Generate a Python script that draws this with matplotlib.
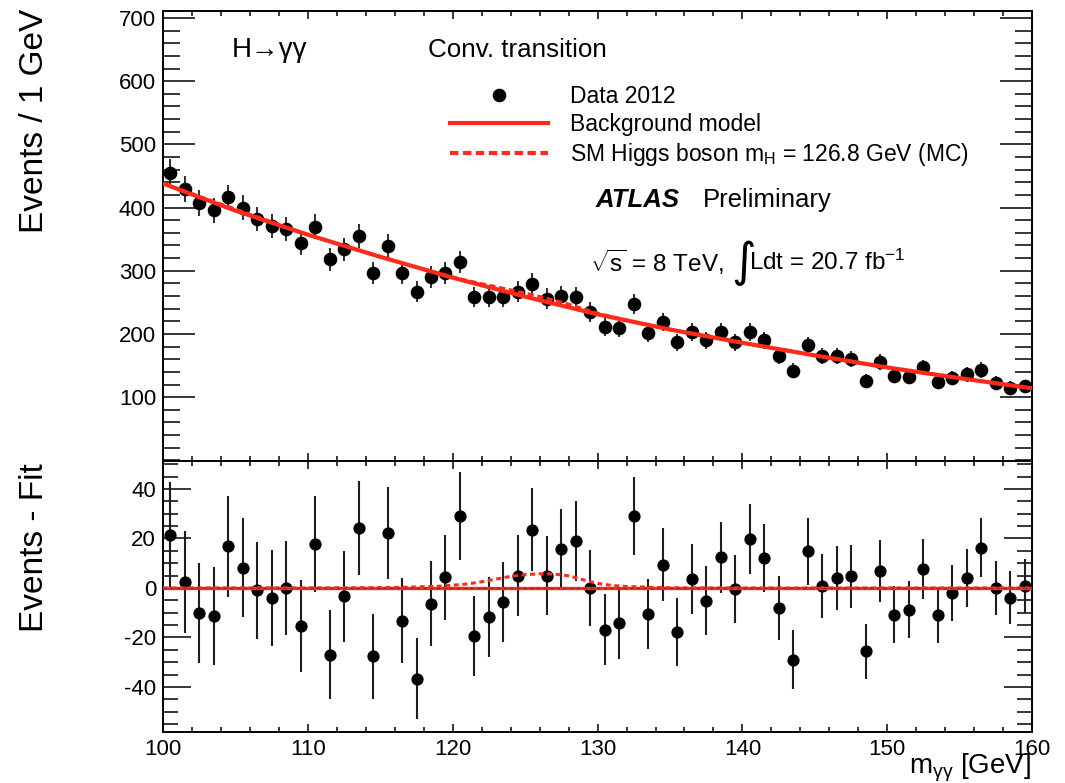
import numpy as np
import matplotlib
matplotlib.use("Agg")
import matplotlib.pyplot as plt
from matplotlib.lines import Line2D
from matplotlib.ticker import MultipleLocator, FixedLocator

plt.rcParams["font.family"] = ["Liberation Sans", "DejaVu Sans"]
plt.rcParams["mathtext.fontset"] = "custom"
plt.rcParams["mathtext.rm"] = "Liberation Sans"
plt.rcParams["mathtext.it"] = "Liberation Sans:italic"
plt.rcParams["mathtext.bf"] = "Liberation Sans:bold"
plt.rcParams["mathtext.sf"] = "Liberation Sans"
plt.rcParams["axes.unicode_minus"] = False

# --- data: diphoton invariant mass, 1 GeV bins ---------------------------
mass = np.arange(100.5, 160.0, 1.0)
counts = [455, 429, 407, 396, 416, 400, 382, 371, 366, 344,
          370, 318, 334, 355, 296, 339, 297, 267, 290, 297,
          314, 258, 259, 259, 267, 279, 256, 260, 258, 235,
          211, 210, 247, 202, 219, 187, 203, 190, 203, 187,
          203, 190, 165, 142, 182, 165, 165, 161, 126, 156,
          134, 132, 147, 124, 130, 136, 143, 123, 115, 117]
residuals = [21.5, 2.4, -10.1, -11.4, 16.8, 8.1, -0.9, -4.0, 0.0, -15.5,
             17.8, -26.9, -3.4, 24.2, -27.6, 22.2, -13.2, -36.6, -6.3, 4.3,
             29.2, -19.5, -11.7, -5.8, 5.0, 23.6, 5.0, 15.8, 18.9, 0.0,
             -16.8, -14.1, 29.0, -10.4, 9.4, -17.9, 3.6, -5.1, 12.4, -0.4,
             19.8, 12.0, -8.1, -29.0, 14.8, 0.7, 4.0, 4.7, -25.6, 6.7,
             -10.8, -8.8, 7.7, -11.0, -2.0, 4.0, 16.2, 0.0, -4.0, 0.7]

# background model
bkg_x = [100, 105, 110, 115, 120, 125, 130, 135, 140, 145, 150, 155, 160]
bkg_y = [438, 395, 357, 322, 289, 259, 231, 207, 186, 166, 147, 130, 114]

# SM Higgs signal (MC), mH = 126.8 GeV
sig_x = [100, 110, 114, 116, 117, 118, 119, 120, 121, 122, 123, 124, 125,
         126, 127, 128, 129, 130, 131, 132, 133, 134, 135, 136, 140, 150, 160]
sig_y = [0.0, 0.05, 0.1, 0.2, 0.3, 0.5, 0.7, 1.1, 1.6, 2.5, 3.6, 4.7, 5.4,
         5.7, 5.6, 4.9, 3.3, 1.8, 1.0, 0.6, 0.4, 0.2, 0.1, 0.05, 0.0, 0.0, 0.0]

counts = np.asarray(counts, dtype=float)
errors = np.sqrt(counts)

RED = "#ff2a1a"
DOT = "black"
BAR = "#1e1e1e"

fig = plt.figure(figsize=(10.65, 7.83), dpi=100)
ax1 = fig.add_axes([0.1531, 0.41124, 0.816, 0.57471])
ax2 = fig.add_axes([0.1531, 0.06513, 0.816, 0.34611])

# --- upper panel ---------------------------------------------------------
ax1.errorbar(mass, counts, yerr=errors, fmt="o", color=DOT, ms=8.8,
             ecolor=BAR, elinewidth=1.3, capsize=0, zorder=3)
ax1.plot(bkg_x, bkg_y, color=RED, lw=3.0, zorder=4, solid_capstyle="butt")
sb = np.interp(sig_x, bkg_x, bkg_y) + np.asarray(sig_y)
ax1.plot(sig_x, sb, color=RED, lw=2.2, dashes=(2.0, 1.2), zorder=4)

ax1.set_xlim(100, 160)
ax1.set_ylim(-1, 711)
ax1.yaxis.set_major_locator(FixedLocator([100, 200, 300, 400, 500, 600, 700]))
ax1.yaxis.set_minor_locator(MultipleLocator(20))
ax1.xaxis.set_major_locator(MultipleLocator(10))
ax1.xaxis.set_minor_locator(MultipleLocator(2))
ax1.tick_params(axis="both", which="both", direction="in", top=True, right=True,
                labelbottom=False, labelsize=16, width=1.1, pad=5)
ax1.tick_params(axis="y", which="major", length=23)
ax1.tick_params(axis="y", which="minor", length=12)
ax1.tick_params(axis="x", which="major", length=6)
ax1.tick_params(axis="x", which="minor", length=3.5)

ax1.text(0.0794, 0.913, "H\u2192\u03b3\u03b3", transform=ax1.transAxes,
         fontsize=20, va="center", ha="left")
ax1.text(0.305, 0.913, "Conv. transition", transform=ax1.transAxes,
         fontsize=18.7, va="center", ha="left")
ax1.text(0.498, 0.58, "ATLAS", transform=ax1.transAxes, fontsize=18.5,
         fontweight="bold", fontstyle="italic", va="center", ha="left")
ax1.text(0.621, 0.58, "Preliminary", transform=ax1.transAxes, fontsize=18.5,
         va="center", ha="left")
ax1.text(0.491, 0.442, r"$\sqrt{\mathregular{s}}$ = 8 TeV,",
         transform=ax1.transAxes, fontsize=17.5, va="center", ha="left")
ax1.text(0.654, 0.440, "\u222b", transform=ax1.transAxes, fontsize=34,
         family="DejaVu Sans", va="center", ha="left")
ax1.text(0.674, 0.442, r"Ldt = 20.7 fb$^{\mathregular{-1}}$",
         transform=ax1.transAxes, fontsize=17.5, va="center", ha="left")

handles = [Line2D([], [], marker="o", ls="none", color=DOT, ms=8.8),
           Line2D([], [], color=RED, lw=3.0),
           Line2D([], [], color=RED, lw=3.0, dashes=(2.0, 1.1))]
labels = ["Data 2012", "Background model",
          r"SM Higgs boson m$_{\mathregular{H}}$ = 126.8 GeV (MC)"]
ax1.legend(handles, labels, loc="upper left", bbox_to_anchor=(0.330, 0.835),
           frameon=False, fontsize=16.5, handlelength=4.28, handletextpad=0.96,
           labelspacing=0.22, borderpad=0, borderaxespad=0)

# --- lower panel: data minus fit ----------------------------------------
ax2.errorbar(mass, residuals, yerr=errors, fmt="o", color=DOT, ms=7.8,
             ecolor=BAR, elinewidth=1.5, capsize=0, zorder=3)
ax2.axhline(0, color=RED, lw=2.4, zorder=4)
ax2.axhline(0, color="#5a1a10", lw=0.8, dashes=(3, 3), alpha=0.6, zorder=5)
ax2.plot(sig_x, sig_y, color=RED, lw=2.2, dashes=(1.6, 1.2), zorder=4)

ax2.set_xlim(100, 160)
ax2.set_ylim(-58.2, 51.3)
ax2.yaxis.set_major_locator(FixedLocator([-40, -20, 0, 20, 40]))
ax2.yaxis.set_minor_locator(MultipleLocator(5))
ax2.xaxis.set_major_locator(MultipleLocator(10))
ax2.xaxis.set_minor_locator(MultipleLocator(2))
ax2.tick_params(axis="both", which="both", direction="in", top=True, right=True,
                labelsize=16, width=1.1, pad=5)
ax2.tick_params(axis="y", which="major", length=20)
ax2.tick_params(axis="y", which="minor", length=11)
ax2.tick_params(axis="x", which="major", length=6)
ax2.tick_params(axis="x", which="minor", length=3.5)

for ax in (ax1, ax2):
    for s in ax.spines.values():
        s.set_linewidth(1.4)

# axis titles
fig.text(35 / 1065, 1 - 9 / 783, "Events / 1 GeV", rotation=90, fontsize=24,
         ha="center", va="top")
fig.text(35 / 1065, 1 - 463 / 783, "Events - Fit", rotation=90, fontsize=24,
         ha="center", va="top")
fig.text(1031 / 1065, 1 - 773 / 783, r"m$_{\mathregular{\gamma\gamma}}$ [GeV]",
         fontsize=20, ha="right", va="baseline")

fig.savefig("out.png", dpi=100)
